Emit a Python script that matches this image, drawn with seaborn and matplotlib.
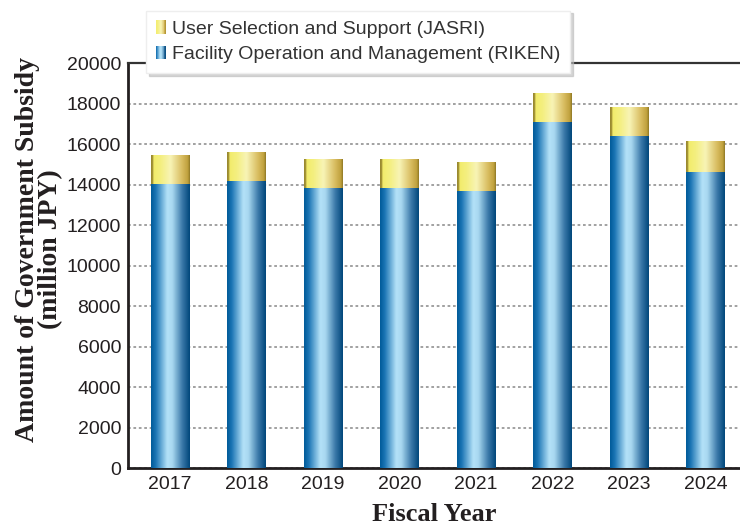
import numpy as np
import pandas as pd
import seaborn as sns
import matplotlib.pyplot as plt
from matplotlib.colors import LinearSegmentedColormap
from matplotlib.patches import Patch, Rectangle
from matplotlib.legend_handler import HandlerBase

# Values (million JPY)
years = ['2017', '2018', '2019', '2020', '2021', '2022', '2023', '2024']
riken = [14020, 14170, 13830, 13830, 13680, 17090, 16400, 14620]
jasri = [1440, 1430, 1430, 1430, 1430, 1430, 1430, 1530]

df = pd.DataFrame({'year': years, 'riken': riken, 'jasri': jasri})
df['total'] = df['riken'] + df['jasri']

sns.set_style('white')
plt.rcParams['font.family'] = ['Liberation Sans', 'DejaVu Sans']

fig = plt.figure(figsize=(7.4, 5.29), dpi=100)
ax = fig.add_axes([0.173, 0.1153, 0.827, 0.7656])

# stacked bars: totals first, RIKEN part drawn over
sns.barplot(data=df, x='year', y='total', color='#f3ee70', width=0.5, ax=ax, zorder=3)
sns.barplot(data=df, x='year', y='riken', color='#3a8cc4', width=0.5, ax=ax, zorder=4)

blue_cmap = LinearSegmentedColormap.from_list('blue', [
    (0.0, '#005a98'), (0.12, '#1a74b4'), (0.42, '#b4e2f8'), (0.55, '#a8d8f0'),
    (0.8, '#3c7aaa'), (1.0, '#00467a')])
yellow_cmap = LinearSegmentedColormap.from_list('yellow', [
    (0.0, '#9a8a30'), (0.05, '#9a8a30'), (0.06, '#f2ec6a'), (0.25, '#f4ef80'),
    (0.5, '#f8f4b6'), (0.8, '#d8bc60'), (0.95, '#bfa03c'), (1.0, '#8a7424')])

grad = np.linspace(0, 1, 256).reshape(1, -1)
n = len(years)
for i, p in enumerate(ax.patches):
    cmap = yellow_cmap if i < n else blue_cmap
    x0, y0 = p.get_x(), p.get_y()
    w, h = p.get_width(), p.get_height()
    p.set_facecolor('none')
    p.set_edgecolor('none')
    im = ax.imshow(grad, cmap=cmap, extent=[x0, x0 + w, y0, y0 + h],
                   aspect='auto', interpolation='bicubic', zorder=p.get_zorder())
    im.set_clip_path(p)

ax.set_xlim(-0.55, n - 0.55)
ax.set_ylim(0, 20000)
ax.set_yticks(np.arange(0, 20001, 2000))
ax.set_xticks(range(n))
ax.set_xticklabels(years)
ax.set_xticks(np.arange(0.5, n - 0.5, 1), minor=True)

ax.yaxis.grid(True, color='#9a9a9a', linestyle=(0, (1.5, 1.5)), linewidth=1.3, zorder=1)
ax.set_axisbelow(True)

for side in ['left', 'bottom']:
    ax.spines[side].set_color('#231f20')
    ax.spines[side].set_linewidth(2)
ax.spines['top'].set_visible(True)
ax.spines['top'].set_color('#333333')
ax.spines['top'].set_linewidth(1.6)
ax.spines['right'].set_visible(False)

ax.tick_params(axis='y', direction='in', length=7, width=2, color='#231f20',
               labelsize=14, labelcolor='#231f20', pad=5)
ax.tick_params(axis='x', which='major', length=0, labelsize=14, labelcolor='#231f20', pad=6)
ax.tick_params(axis='x', which='minor', direction='in', length=7, width=1.5, color='#231f20')

ax.set_xlabel('Fiscal Year', fontsize=19, fontweight='bold',
              family=['Liberation Serif', 'DejaVu Serif'], labelpad=7, color='#231f20')
ax.set_ylabel('Amount of Government Subsidy\n(million JPY)', fontsize=20, fontweight='bold',
              family=['Liberation Serif', 'DejaVu Serif'], color='#231f20',
              linespacing=0.9)
ax.yaxis.set_label_coords(-0.106, 0.54)


class GradientHandler(HandlerBase):
    def __init__(self, cmap):
        super().__init__()
        self.cmap = cmap

    def create_artists(self, legend, orig_handle, xdescent, ydescent,
                       width, height, fontsize, trans):
        steps = 12
        arts = []
        for k in range(steps):
            r = Rectangle((-xdescent + width * k / steps, -ydescent),
                          width / steps + 0.2, height,
                          facecolor=self.cmap((k + 0.5) / steps), edgecolor='none',
                          transform=trans)
            arts.append(r)
        return arts


h_jasri = Patch(label='jasri')
h_riken = Patch(label='riken')
leg = fig.legend([h_jasri, h_riken], ['User Selection and Support (JASRI)',
                                      'Facility Operation and Management (RIKEN)'],
                 handler_map={h_jasri: GradientHandler(yellow_cmap),
                              h_riken: GradientHandler(blue_cmap)},
                 loc='upper left', bbox_to_anchor=(0.197, 0.98), fontsize=14,
                 frameon=True, fancybox=False, shadow={'color': '#bbbbbb', 'alpha': 0.6},
                 handlelength=0.55, handleheight=0.7, handletextpad=0.3,
                 labelspacing=0.4, borderpad=0.5, borderaxespad=0,
                 labelcolor='#333333')
leg.get_frame().set_edgecolor('#eeeeee')
leg.set_zorder(10)

fig.savefig('out.png', dpi=100)
